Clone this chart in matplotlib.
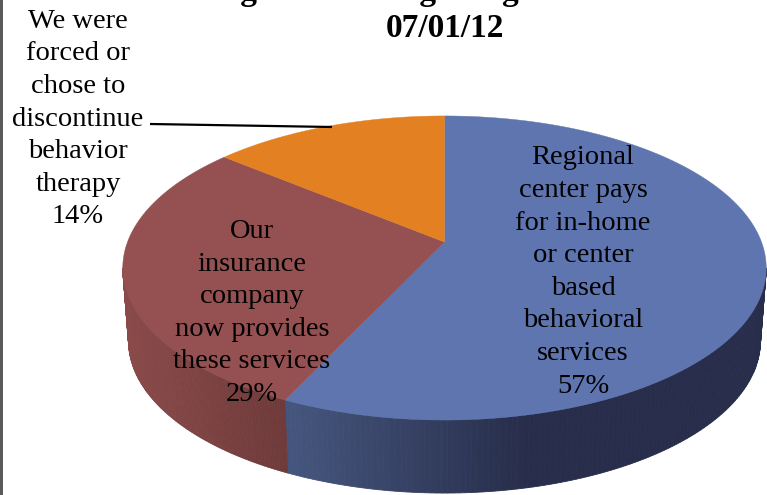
import numpy as np
import matplotlib
matplotlib.use("Agg")
import matplotlib.pyplot as plt
from matplotlib.patches import Polygon, Rectangle

labels = ["Regional\ncenter pays\nfor in-home\nor center\nbased\nbehavioral\nservices",
          "Our\ninsurance\ncompany\nnow provides\nthese services",
          "We were\nforced or\nchose to\ndiscontinue\nbehavior\ntherapy"]
values = [57, 29, 14]
colors = ["#5f75b0", "#955152", "#e38122"]
side_light = ["#46577f", "#8a4a4a", "#c06c1c"]
side_dark = ["#272d4a", "#6f3a3a", "#a05a18"]
title_line = "Receiving ABA through Regional Centers as of"
date_line = "07/01/12"

# projection of the pie disc, in image pixels
cx, cy = 444.5, 242.0
rx, ry = 317.0, 147.6
persp = 0.171
depth = 73.0

plt.rcParams['font.family'] = ['Liberation Serif', 'DejaVu Serif']

def disc(frac, shrink=1.0, drop=0.0):
    # frac is the share of the circle, clockwise from the top
    t = 2 * np.pi * np.asarray(frac)
    u = np.sin(t)
    v = np.cos(t)
    d = 1 + persp * v
    return cx + shrink * rx * u / d, cy - ry * v / d + drop

def mix(c1, c2, f):
    a = np.array(matplotlib.colors.to_rgb(c1))
    b = np.array(matplotlib.colors.to_rgb(c2))
    return tuple(a + (b - a) * f)

fig = plt.figure(figsize=(7.67, 4.95), dpi=100)
ax = fig.add_axes([0, 0, 1, 1])
ax.set_xlim(0, 767)
ax.set_ylim(495, 0)
ax.axis("off")

edges = np.concatenate([[0], np.cumsum(values)]) / float(sum(values))

# side wall, only the part facing the viewer
side_start = 0.25 + persp / (2 * np.pi)
side_end = 0.75 - persp / (2 * np.pi)
for i in range(len(values)):
    lo = max(edges[i], side_start)
    hi = min(edges[i + 1], side_end)
    if hi <= lo:
        continue
    fr = np.linspace(lo, hi, 120)
    for j in range(len(fr) - 1):
        x1, y1 = disc(fr[j])
        x2, y2 = disc(fr[j + 1])
        x3, y3 = disc(fr[j + 1], 0.982, depth)
        x4, y4 = disc(fr[j], 0.982, depth)
        if i == 0:
            f = np.clip((530 - x1) / 245.0, 0, 1)
            col = mix(side_dark[i], side_light[i], f)
        else:
            f = np.clip((x1 - 125) / 160.0, 0, 1)
            col = mix(side_light[i], side_dark[i], f)
        ax.add_patch(Polygon([(x1, y1), (x2, y2), (x3, y3), (x4, y4)], closed=True,
                             facecolor=col, edgecolor=col, lw=0.6))

# top of the disc
for i in range(len(values)):
    fr = np.linspace(edges[i], edges[i + 1], 200)
    xs, ys = disc(fr)
    pts = [(cx, cy)] + list(zip(xs, ys))
    ax.add_patch(Polygon(pts, closed=True, facecolor=colors[i], edgecolor=colors[i], lw=0.3))

# leader line
ax.plot([150, 332], [124, 127], color="black", lw=1.6, solid_capstyle="butt")

# left page border
ax.add_patch(Rectangle((0, 0), 2.5, 495, facecolor="#5a5a5a", edgecolor="none"))

fs = 20.5
ls = 1.4
ax.text(583, 272, labels[0] + "\n%d%%" % values[0], ha="center", va="center", fontsize=fs, linespacing=ls)
ax.text(252, 313, labels[1] + "\n%d%%" % values[1], ha="center", va="center", fontsize=fs, linespacing=ls)
ax.text(78, 119, labels[2] + "\n%d%%" % values[2], ha="center", va="center", fontsize=fs, linespacing=ls)

ax.text(450, 0, title_line, ha="center", va="baseline", fontsize=24, fontweight="bold", clip_on=False)
ax.text(445, 37, date_line, ha="center", va="baseline", fontsize=24, fontweight="bold")

fig.savefig("out.png", dpi=100)
